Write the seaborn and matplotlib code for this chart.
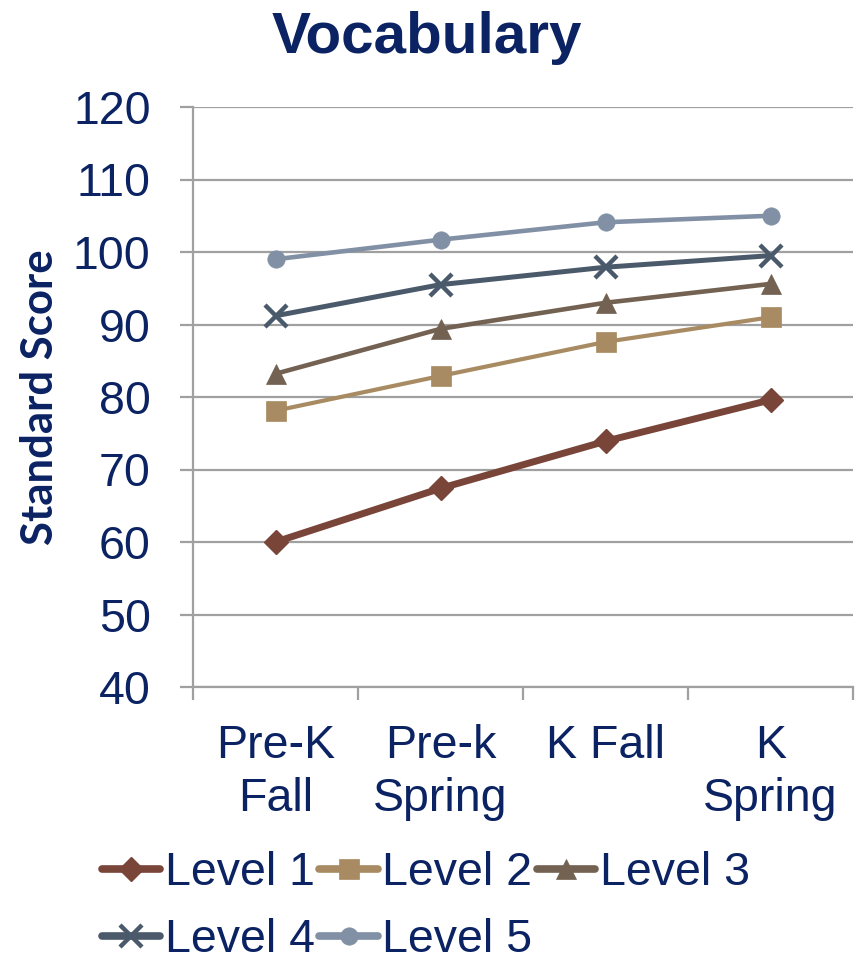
import matplotlib
matplotlib.use("Agg")
import matplotlib.pyplot as plt
import seaborn as sns
import pandas as pd
from matplotlib.ticker import FixedLocator

sns.set_theme(style="white")
plt.rcParams['font.family'] = ['Liberation Sans', 'DejaVu Sans']

categories = ["Pre-K\nFall", "Pre-k\nSpring", "K Fall", "K\nSpring"]
level_1 = [60.0, 67.4, 73.9, 79.6]
level_2 = [78.1, 82.9, 87.6, 91.0]
level_3 = [83.2, 89.4, 93.0, 95.6]
level_4 = [91.2, 95.5, 97.9, 99.5]
level_5 = [99.0, 101.7, 104.1, 105.0]
series_names = ["Level 1", "Level 2", "Level 3", "Level 4", "Level 5"]
series_values = [level_1, level_2, level_3, level_4, level_5]
y_ticks = [40, 50, 60, 70, 80, 90, 100, 110, 120]

navy = "#0B2263"
grid_c = "#A0A0A0"
styles = {
    "Level 1": dict(color="#7A4539", marker="D", lw=5.0, ms=12, mew=1),
    "Level 2": dict(color="#A88B62", marker="s", lw=3.0, ms=15, mew=0.5),
    "Level 3": dict(color="#736152", marker="^", lw=3.3, ms=15, mew=0.5),
    "Level 4": dict(color="#4B5A6B", marker="x", lw=3.6, ms=15.5, mew=3.2),
    "Level 5": dict(color="#8190A5", marker="o", lw=3.3, ms=12.5, mew=0.5),
}

rows = []
for name, vals in zip(series_names, series_values):
    for c, v in zip(categories, vals):
        rows.append({"Time": c, "Score": v, "Level": name})
df = pd.DataFrame(rows)

fig = plt.figure(figsize=(8.59, 9.65), dpi=100)
ax = fig.add_axes([193/859, 1-687/965, 660/859, 580/965])

for name in series_names:
    s = styles[name]
    sub = df[df["Level"] == name]
    sns.lineplot(data=sub, x="Time", y="Score", ax=ax, color=s["color"],
                 marker=s["marker"], linewidth=s["lw"], markersize=s["ms"],
                 markeredgewidth=s["mew"], markeredgecolor=s["color"],
                 label=name, legend=False, sort=False)

ax.set_xlim(-0.5, 3.5)
ax.set_ylim(40, 120)
ax.set_yticks(y_ticks)
ax.yaxis.grid(True, color=grid_c, linewidth=1.6)
ax.xaxis.grid(False)
for sp in ["top", "right"]:
    ax.spines[sp].set_visible(False)
for sp in ["left", "bottom"]:
    ax.spines[sp].set_color(grid_c)
    ax.spines[sp].set_linewidth(1.6)

ax.set_xticks(range(len(categories)))
ax.set_xticklabels(categories, linespacing=1.26)
ax.xaxis.set_minor_locator(FixedLocator([-0.5, 0.5, 1.5, 2.5, 3.5]))
ax.tick_params(axis="x", which="major", length=0, pad=27, labelsize=33.5, labelcolor=navy)
ax.tick_params(axis="x", which="minor", length=9.5, width=1.6, color=grid_c, direction="out", bottom=True)
ax.tick_params(axis="y", which="major", length=9.5, width=1.6, color=grid_c, direction="out",
               pad=21, labelsize=33.5, labelcolor=navy, left=True)

ax.set_xlabel("")
ax.set_ylabel("Standard Score", fontsize=31.5, fontweight="bold", color=navy,
              family=["Lato", "DejaVu Sans"])
ax.yaxis.set_label_coords(-0.2015, 0.5)

fig.text(0.497, 1-53/965, "Vocabulary", ha="center", va="baseline",
         fontsize=42, fontweight="bold", color=navy)

handles, labels = ax.get_legend_handles_labels()
hmap = dict(zip(labels, handles))
order = ["Level 1", "Level 4", "Level 2", "Level 5", "Level 3"]
leg = fig.legend([hmap[k] for k in order], order, ncol=3, loc="upper left",
                 bbox_to_anchor=(102/859, 1-851/965), frameon=False,
                 fontsize=33.5, handlelength=1.25, handletextpad=0.1,
                 columnspacing=0.1, labelspacing=0.5, borderpad=0, borderaxespad=0)
for t in leg.get_texts():
    t.set_color(navy)
for ln in leg.get_lines():
    ln.set_linewidth(5.5)
    ln.set_solid_capstyle("round")

fig.savefig("out.png", dpi=100)
